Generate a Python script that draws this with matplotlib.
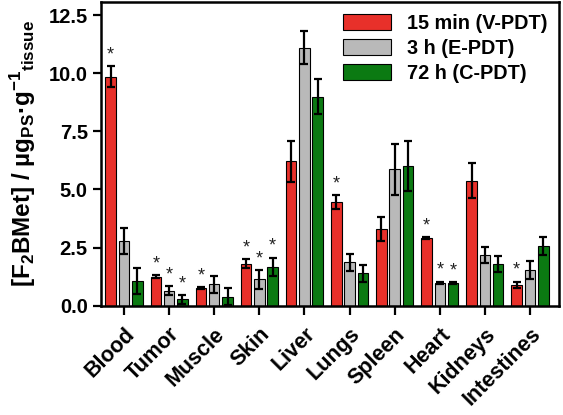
"""Biodistribution of F2BMet in tissues at three drug-light intervals."""

import matplotlib
matplotlib.use("Agg")
import matplotlib.pyplot as plt
import numpy as np
from matplotlib.patches import Patch

plt.rcParams["font.family"] = ["Liberation Sans", "DejaVu Sans"]
plt.rcParams["mathtext.default"] = "regular"

TISSUES = ["Blood", "Tumor", "Muscle", "Skin", "Liver",
           "Lungs", "Spleen", "Heart", "Kidneys", "Intestines"]
SERIES = ["15 min (V-PDT)", "3 h (E-PDT)", "72 h (C-PDT)"]

V_PDT = [9.85, 1.25, 0.76, 1.80, 6.22, 4.45, 3.30, 2.90, 5.37, 0.89]
E_PDT = [2.77, 0.64, 0.92, 1.13, 11.10, 1.86, 5.86, 0.99, 2.17, 1.53]
C_PDT = [1.08, 0.27, 0.39, 1.67, 8.98, 1.39, 6.01, 0.97, 1.79, 2.58]

V_ERR = [0.45, 0.05, 0.05, 0.20, 0.88, 0.30, 0.50, 0.05, 0.75, 0.14]
E_ERR = [0.55, 0.20, 0.36, 0.40, 0.72, 0.38, 1.08, 0.05, 0.35, 0.38]
C_ERR = [0.56, 0.18, 0.36, 0.40, 0.75, 0.37, 1.06, 0.05, 0.35, 0.38]

# significance markers (1 = asterisk above bar)
V_SIG = [1, 1, 1, 1, 0, 1, 0, 1, 0, 1]
E_SIG = [0, 1, 0, 1, 0, 0, 0, 1, 0, 0]
C_SIG = [0, 1, 0, 1, 0, 0, 0, 1, 0, 0]

COLORS = ["#E8302A", "#B9B9B9", "#0B7A12"]

fig = plt.figure(figsize=(5.63, 4.15), dpi=100)
ax = fig.add_axes([0.1794, 0.2634, 0.8135, 0.7318])

x = np.arange(len(TISSUES))
width = 0.233
offset = 0.295
groups = [(V_PDT, V_ERR, V_SIG), (E_PDT, E_ERR, E_SIG), (C_PDT, C_ERR, C_SIG)]

for i, (vals, errs, sigs) in enumerate(groups):
    pos = x + (i - 1) * offset
    ax.bar(pos, vals, width, color=COLORS[i], edgecolor="black",
           linewidth=0.8, zorder=2)
    ax.errorbar(pos, vals, yerr=errs, fmt="none", ecolor="black",
                elinewidth=1.6, capsize=3, capthick=1.6, zorder=3)
    for p, v, e, s in zip(pos, vals, errs, sigs):
        if s:
            ax.text(p, v + e + 0.12, "*", ha="center", va="bottom",
                    fontsize=13, color="#222222")

ax.set_xlim(-0.51, 9.643)
ax.set_ylim(0, 13.06)
ax.set_yticks([0, 2.5, 5.0, 7.5, 10.0, 12.5])
ax.set_yticklabels(["0.0", "2.5", "5.0", "7.5", "10.0", "12.5"],
                   fontsize=14.5, fontweight="bold")
ax.set_xticks(x)
ax.set_xticklabels(TISSUES, rotation=45, ha="right", rotation_mode="anchor",
                   fontsize=15.5, fontweight="bold")
ax.tick_params(axis="both", direction="out", width=1.6, length=6)
ax.tick_params(axis="x", length=6.5, pad=6.5)
for spine in ax.spines.values():
    spine.set_linewidth(1.8)

ax.set_ylabel(r"[F$_2$BMet] / µg$_{PS}$·g$^{-1}$$_{tissue}$",
              fontsize=17.5, fontweight="bold", labelpad=7.5)

handles = [Patch(facecolor=c, edgecolor="black", linewidth=0.8) for c in COLORS]
leg = ax.legend(handles, SERIES, loc="upper right", frameon=False,
                prop={"weight": "bold", "size": 14.3},
                handlelength=2.4, handleheight=0.8, labelspacing=0.3,
                handletextpad=0.8, borderaxespad=0.2)

fig.savefig("out.png", dpi=100)
